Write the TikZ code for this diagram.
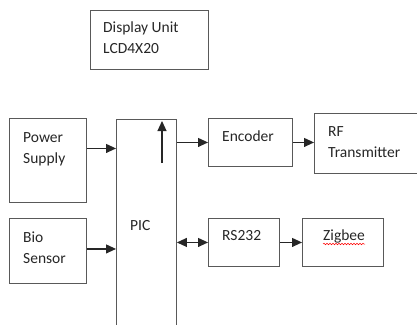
\documentclass[tikz,border=0pt]{standalone}
\usepackage{fontspec}
\setmainfont{Carlito}
\usetikzlibrary{arrows.meta,decorations.pathmorphing}
\definecolor{boxgray}{HTML}{595959}
\definecolor{txtgray}{HTML}{262626}
\tikzset{
    block/.style={draw=boxgray, line width=0.9pt, inner sep=0pt, anchor=north west},
    blocktext/.style={anchor=base west, inner sep=0pt, align=left, text=txtgray,
        font=\fontsize{15.5}{21}\selectfont},
    signal/.style={line width=1.1pt, draw=black!85, -{Triangle[length=10pt,width=9pt]}},
}
\begin{document}
\begin{tikzpicture}[x=1pt, y=-1pt]
    \useasboundingbox (0,0) rectangle (417,324);
    \clip (0,0) rectangle (417,324);
    % boxes: name / left / top / width / height
    \foreach \name/\x/\y/\w/\h in {display/90/10/118/59, power/9/118/77/84,
        bio/9/218/77/65, pic/116/119/60/240, encoder/208/118/84/48,
        rf/314/113/110/60, rs232/208/218/71/48, zigbee/302/218/81/48}
        \node[block, minimum width=\w pt, minimum height=\h pt] (\name) at (\x,\y) {};
    % texts (placed at the baseline of their last line)
    \foreach \name/\x/\y/\txt in {display/103/53/{Display Unit\\LCD4X20},
        power/23/163/{Power\\Supply}, bio/23/263/{Bio\\Sensor}, pic/130/230/{PIC},
        encoder/222/141/{Encoder}, rf/328/157/{RF\\Transmitter},
        rs232/222/240/{RS232}, zigbee/323/240/{Zigbee}}
        \node[blocktext] (\name-text) at (\x,\y) {\txt};
    \draw[red, line width=0.5pt, decorate, decoration={snake, amplitude=0.8pt, segment length=3pt}]
        ([yshift=-4pt]zigbee-text.base west) -- ([yshift=-4pt]zigbee-text.base east);
    % connectors
    \draw[signal] ([yshift=12pt]power.east) -- ([yshift=12pt]power.east -| pic.west);
    \draw[signal] ([yshift=2pt]bio.east) -- ([yshift=2pt]bio.east -| pic.west);
    \coordinate (pic-up) at (162,163);
    \draw[signal] (pic-up) -- ([yshift=-2pt]pic-up |- pic.north);
    \draw[signal] (pic.east |- encoder.west) -- (encoder.west);
    \draw[signal] (encoder.east) -- (encoder.east -| rf.west);
    \draw[signal, {Triangle[length=10pt,width=9pt]}-{Triangle[length=10pt,width=9pt]}]
        (pic.east |- rs232.west) -- (rs232.west);
    \draw[signal] (rs232.east) -- (zigbee.west);
\end{tikzpicture}
\end{document}
